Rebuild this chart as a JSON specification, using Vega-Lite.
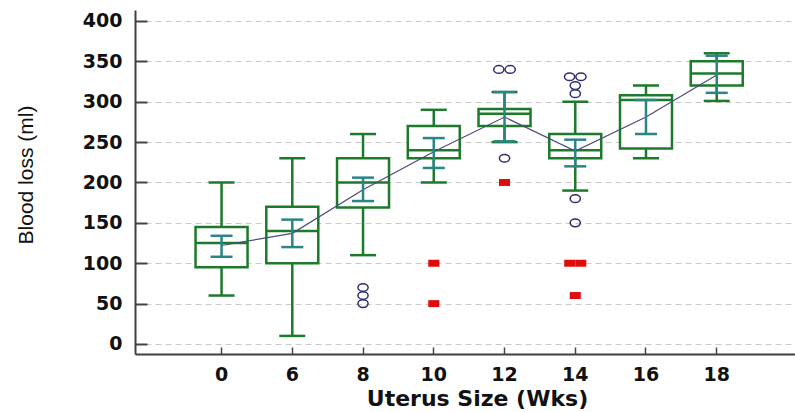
{
  "$schema": "https://vega.github.io/schema/vega-lite/v6.json",
  "width": 660,
  "height": 344,
  "autosize": "none",
  "padding": {"left": 135, "top": 10, "right": 0, "bottom": 58},
  "background": "white",
  "config": {
    "view": {"stroke": null},
    "axisY": {
      "labelFont": "DejaVu Sans",
      "labelFontWeight": "bold",
      "labelFontSize": 19,
      "labelColor": "#111111",
      "labelPadding": 25,
      "tickSize": -12,
      "tickColor": "#444444",
      "tickWidth": 2,
      "domainColor": "#404040",
      "domainWidth": 2,
      "grid": true,
      "gridColor": "#c8c8c8",
      "gridDash": [6, 4],
      "gridWidth": 1,
      "titleFont": "Liberation Sans",
      "titleFontSize": 21,
      "titleFontWeight": "normal",
      "titleColor": "#111111",
      "titleAngle": -90,
      "titleX": -109,
      "titleY": 164.5,
      "titleAlign": "center",
      "titleBaseline": "middle"
    },
    "axisX": {
      "labelAngle": 0,
      "labelFont": "DejaVu Sans",
      "labelFontWeight": "bold",
      "labelFontSize": 19,
      "labelColor": "#111111",
      "labelPadding": 18,
      "tickSize": -7,
      "tickColor": "#444444",
      "tickWidth": 1.5,
      "domainColor": "#404040",
      "domainWidth": 2,
      "grid": false,
      "titleFont": "DejaVu Sans",
      "titleFontSize": 22,
      "titleFontWeight": "bold",
      "titleColor": "#111111",
      "titleX": 342,
      "titleY": 51,
      "titleBaseline": "alphabetic"
    }
  },
  "datasets": {
    "stats": [
      {"size": "0", "lo": 60, "q1": 95, "med": 125, "q3": 145, "hi": 200, "mean": 122, "cil": 108, "cih": 134},
      {"size": "6", "lo": 10, "q1": 100, "med": 140, "q3": 170, "hi": 230, "mean": 137, "cil": 120, "cih": 154},
      {"size": "8", "lo": 110, "q1": 169, "med": 200, "q3": 230, "hi": 260, "mean": 191, "cil": 177, "cih": 206},
      {"size": "10", "lo": 200, "q1": 230, "med": 240, "q3": 270, "hi": 290, "mean": 238, "cil": 218, "cih": 255},
      {"size": "12", "lo": 250, "q1": 270, "med": 285, "q3": 291, "hi": 312, "mean": 281, "cil": 251, "cih": 312},
      {"size": "14", "lo": 190, "q1": 230, "med": 240, "q3": 260, "hi": 300, "mean": 239, "cil": 220, "cih": 253},
      {"size": "16", "lo": 230, "q1": 242, "med": 302, "q3": 308, "hi": 320, "mean": 281, "cil": 260, "cih": 302},
      {"size": "18", "lo": 301, "q1": 320, "med": 335, "q3": 350, "hi": 360, "mean": 333, "cil": 311, "cih": 357}
    ],
    "outliers": [
      {"size": "8", "value": 70, "kind": "outlier", "side": "c"},
      {"size": "8", "value": 60, "kind": "outlier", "side": "c"},
      {"size": "8", "value": 50, "kind": "outlier", "side": "c"},
      {"size": "10", "value": 100, "kind": "extreme", "side": "c"},
      {"size": "10", "value": 50, "kind": "extreme", "side": "c"},
      {"size": "12", "value": 340, "kind": "outlier", "side": "l"},
      {"size": "12", "value": 340, "kind": "outlier", "side": "r"},
      {"size": "12", "value": 230, "kind": "outlier", "side": "c"},
      {"size": "12", "value": 200, "kind": "extreme", "side": "c"},
      {"size": "14", "value": 331, "kind": "outlier", "side": "l"},
      {"size": "14", "value": 331, "kind": "outlier", "side": "r"},
      {"size": "14", "value": 320, "kind": "outlier", "side": "c"},
      {"size": "14", "value": 310, "kind": "outlier", "side": "c"},
      {"size": "14", "value": 180, "kind": "outlier", "side": "c"},
      {"size": "14", "value": 150, "kind": "outlier", "side": "c"},
      {"size": "14", "value": 100, "kind": "extreme", "side": "l"},
      {"size": "14", "value": 100, "kind": "extreme", "side": "r"},
      {"size": "14", "value": 60, "kind": "extreme", "side": "c"}
    ]
  },
  "encoding": {
    "x": {
      "field": "size",
      "type": "nominal",
      "sort": null,
      "title": "Uterus Size (Wks)",
      "scale": {"domain": ["0", "6", "8", "10", "12", "14", "16", "18"], "paddingInner": 0, "paddingOuter": 0.665, "align": 0.544, "round": false}
    }
  },
  "resolve": {"scale": {"shape": "independent"}},
  "layer": [
    {
      "data": {"name": "stats"},
      "mark": {"type": "rule", "color": "#1d7a2a", "strokeWidth": 2.5, "opacity": 1},
      "encoding": {
        "y": {"field": "lo", "type": "quantitative", "title": "Blood loss (ml)", "scale": {"domain": [-12.4, 413.6], "nice": false, "zero": false}, "axis": {"values": [0, 50, 100, 150, 200, 250, 300, 350, 400]}},
        "y2": {"field": "hi"}
      }
    },
    {
      "data": {"name": "stats"},
      "mark": {"type": "tick", "color": "#1d7a2a", "thickness": 2.5, "size": 26, "opacity": 1},
      "encoding": {"y": {"field": "lo", "type": "quantitative", "title": "Blood loss (ml)", "scale": {"domain": [-12.4, 413.6], "nice": false, "zero": false}, "axis": {"values": [0, 50, 100, 150, 200, 250, 300, 350, 400]}}}
    },
    {
      "data": {"name": "stats"},
      "mark": {"type": "tick", "color": "#1d7a2a", "thickness": 2.5, "size": 26, "opacity": 1},
      "encoding": {"y": {"field": "hi", "type": "quantitative", "title": "Blood loss (ml)", "scale": {"domain": [-12.4, 413.6], "nice": false, "zero": false}, "axis": {"values": [0, 50, 100, 150, 200, 250, 300, 350, 400]}}}
    },
    {
      "data": {"name": "stats"},
      "mark": {"type": "bar", "fill": "white", "stroke": "#1d7a2a", "strokeWidth": 2.5, "opacity": 1, "width": {"band": 0.735}},
      "encoding": {
        "y": {"field": "q1", "type": "quantitative", "title": "Blood loss (ml)", "scale": {"domain": [-12.4, 413.6], "nice": false, "zero": false}, "axis": {"values": [0, 50, 100, 150, 200, 250, 300, 350, 400]}},
        "y2": {"field": "q3"}
      }
    },
    {
      "data": {"name": "stats"},
      "mark": {"type": "tick", "color": "#1d7a2a", "thickness": 2.5, "size": 52, "opacity": 1},
      "encoding": {"y": {"field": "med", "type": "quantitative", "title": "Blood loss (ml)", "scale": {"domain": [-12.4, 413.6], "nice": false, "zero": false}, "axis": {"values": [0, 50, 100, 150, 200, 250, 300, 350, 400]}}}
    },
    {
      "data": {"name": "stats"},
      "mark": {"type": "line", "color": "#4b4b7d", "strokeWidth": 1.2},
      "encoding": {"y": {"field": "mean", "type": "quantitative", "title": "Blood loss (ml)", "scale": {"domain": [-12.4, 413.6], "nice": false, "zero": false}, "axis": {"values": [0, 50, 100, 150, 200, 250, 300, 350, 400]}}}
    },
    {
      "data": {"name": "stats"},
      "mark": {"type": "rule", "color": "#2a8585", "strokeWidth": 2.5, "opacity": 1},
      "encoding": {
        "y": {"field": "cil", "type": "quantitative", "title": "Blood loss (ml)", "scale": {"domain": [-12.4, 413.6], "nice": false, "zero": false}, "axis": {"values": [0, 50, 100, 150, 200, 250, 300, 350, 400]}},
        "y2": {"field": "cih"}
      }
    },
    {
      "data": {"name": "stats"},
      "mark": {"type": "tick", "color": "#2a8585", "thickness": 2.5, "size": 22, "opacity": 1},
      "encoding": {"y": {"field": "cil", "type": "quantitative", "title": "Blood loss (ml)", "scale": {"domain": [-12.4, 413.6], "nice": false, "zero": false}, "axis": {"values": [0, 50, 100, 150, 200, 250, 300, 350, 400]}}}
    },
    {
      "data": {"name": "stats"},
      "mark": {"type": "tick", "color": "#2a8585", "thickness": 2.5, "size": 22, "opacity": 1},
      "encoding": {"y": {"field": "cih", "type": "quantitative", "title": "Blood loss (ml)", "scale": {"domain": [-12.4, 413.6], "nice": false, "zero": false}, "axis": {"values": [0, 50, 100, 150, 200, 250, 300, 350, 400]}}}
    },
    {
      "data": {"name": "outliers"},
      "transform": [{"filter": "datum.kind === 'outlier'"}],
      "mark": {"type": "point", "filled": false, "stroke": "#2d2d70", "strokeWidth": 1.5, "size": 289, "opacity": 1},
      "encoding": {
        "y": {"field": "value", "type": "quantitative", "title": "Blood loss (ml)", "scale": {"domain": [-12.4, 413.6], "nice": false, "zero": false}, "axis": {"values": [0, 50, 100, 150, 200, 250, 300, 350, 400]}},
        "shape": {
          "field": "side",
          "type": "nominal",
          "legend": null,
          "scale": {
            "domain": ["l", "c", "r"],
            "range": [
              "M-1.27,0A0.6,0.45 0 1,0 -0.07,0A0.6,0.45 0 1,0 -1.27,0Z",
              "M-0.6,0A0.6,0.45 0 1,0 0.6,0A0.6,0.45 0 1,0 -0.6,0Z",
              "M0.07,0A0.6,0.45 0 1,0 1.27,0A0.6,0.45 0 1,0 0.07,0Z"
            ]
          }
        }
      }
    },
    {
      "data": {"name": "outliers"},
      "transform": [{"filter": "datum.kind === 'extreme'"}],
      "mark": {"type": "point", "filled": true, "fill": "#e00c0c", "strokeWidth": 0, "size": 289, "opacity": 1},
      "encoding": {
        "y": {"field": "value", "type": "quantitative", "title": "Blood loss (ml)", "scale": {"domain": [-12.4, 413.6], "nice": false, "zero": false}, "axis": {"values": [0, 50, 100, 150, 200, 250, 300, 350, 400]}},
        "shape": {
          "field": "side",
          "type": "nominal",
          "legend": null,
          "scale": {
            "domain": ["l", "c", "r"],
            "range": [
              "M-1.3,-0.41H0V0.41H-1.3Z",
              "M-0.65,-0.41H0.65V0.41H-0.65Z",
              "M0,-0.41H1.3V0.41H0Z"
            ]
          }
        }
      }
    }
  ]
}
